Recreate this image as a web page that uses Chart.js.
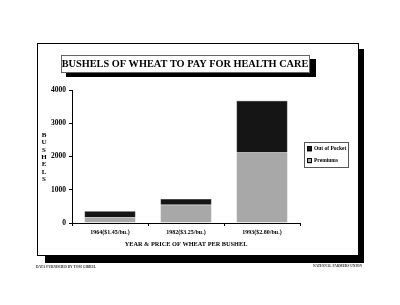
<!DOCTYPE html>
<html>
<head>
<meta charset="utf-8">
<script src="https://cdn.jsdelivr.net/npm/chart.js@4/dist/chart.umd.min.js"></script>
<style>
  html, body { margin: 0; padding: 0; background: #fff; }
  #wrap { width: 400px; height: 305px; position: relative; }
</style>
</head>
<body>
<div id="wrap"><canvas id="wheatChart"></canvas></div>
<script>
var categories = ['1964($1.45/bu.)', '1982($3.25/bu.)', '1993($2.80/bu.)'];
var premiums = [170, 550, 2120];
var outOfPocket = [180, 170, 1560];
var yTicks = [0, 1000, 2000, 3000, 4000];

var serif = '"Liberation Serif", "DejaVu Serif", serif';

// frame, title box, legend and the extra captions
var decorPlugin = {
    id: 'decor',
    beforeDraw: function (chart) {
        var ctx = chart.ctx;
        ctx.save();
        ctx.fillStyle = '#fff';
        ctx.fillRect(0, 0, chart.width, chart.height);
        // outer frame with drop shadow
        ctx.fillStyle = '#000';
        ctx.fillRect(45, 49, 319, 214);
        ctx.fillStyle = '#fff';
        ctx.fillRect(37, 43, 322, 213);
        ctx.strokeStyle = '#000';
        ctx.lineWidth = 1;
        ctx.strokeRect(37.5, 43.5, 321, 212);
        // title box with shadow
        ctx.fillStyle = '#000';
        ctx.fillRect(66, 59, 250, 18);
        ctx.fillStyle = '#fff';
        ctx.fillRect(61, 55, 249, 18);
        ctx.strokeStyle = '#666';
        ctx.strokeRect(61.5, 55.5, 248, 17);
        ctx.fillStyle = '#000';
        ctx.font = 'bold 10.3px ' + serif;
        ctx.textAlign = 'center';
        ctx.textBaseline = 'middle';
        ctx.fillText('BUSHELS OF WHEAT TO PAY FOR HEALTH CARE', 185, 64.5);
        ctx.restore();
    },
    afterDraw: function (chart) {
        var ctx = chart.ctx;
        ctx.save();
        ctx.fillStyle = '#000';
        ctx.textBaseline = 'middle';
        // stacked y axis title
        ctx.font = 'bold 7px ' + serif;
        ctx.textAlign = 'center';
        var letters = 'BUSHELS'.split('');
        letters.forEach(function (ch, i) {
            ctx.fillText(ch, 44, 135 + i * 7.4);
        });
        // x axis title
        ctx.font = 'bold 6.3px ' + serif;
        ctx.fillText('YEAR & PRICE OF WHEAT PER BUSHEL', 186, 244);
        // legend, top entry is the top of the stack
        var ds = chart.data.datasets.slice().reverse();
        ctx.fillStyle = '#fff';
        ctx.fillRect(304, 142, 45, 26);
        ctx.strokeStyle = '#555';
        ctx.lineWidth = 1;
        ctx.strokeRect(304.5, 142.5, 44, 25);
        ctx.font = 'bold 5.5px ' + serif;
        ctx.textAlign = 'left';
        ds.forEach(function (d, i) {
            var y = 149 + i * 12;
            ctx.fillStyle = d.backgroundColor;
            ctx.fillRect(307, y - 2.5, 5, 5);
            ctx.strokeStyle = '#000';
            ctx.strokeRect(307.5, y - 2.5, 4, 4);
            ctx.fillStyle = '#000';
            ctx.fillText(d.label, 314, y);
        });
        // footer captions
        ctx.font = 'bold 3.5px ' + serif;
        ctx.fillStyle = '#333';
        ctx.fillText('DATA FURNISHED BY TOM GIBBEL', 36, 267);
        ctx.textAlign = 'right';
        ctx.fillText('NATIONAL FARMERS UNION', 362, 266);
        ctx.restore();
    }
};

new Chart(document.getElementById('wheatChart').getContext('2d'), {
    type: 'bar',
    data: {
        labels: categories,
        datasets: [{
            label: 'Premiums',
            data: premiums,
            backgroundColor: '#a8a8a8',
            borderColor: '#888',
            borderWidth: 0.5
        }, {
            label: 'Out of Pocket',
            data: outOfPocket,
            backgroundColor: '#151515',
            borderColor: '#000',
            borderWidth: 0.5
        }]
    },
    options: {
        responsive: true,
        maintainAspectRatio: false,
        animation: false,
        layout: { padding: { left: 40, top: 90, right: 100, bottom: 45 } },
        categoryPercentage: 1,
        barPercentage: 0.67,
        plugins: {
            legend: { display: false },
            tooltip: { enabled: false }
        },
        scales: {
            x: {
                stacked: true,
                afterFit: function (s) { s.height = 37; },
                grid: { drawOnChartArea: false, tickLength: 3, color: '#000' },
                border: { color: '#000', width: 1 },
                ticks: { color: '#000', font: { family: serif, size: 6, weight: 'bold' }, padding: 3, maxRotation: 0 }
            },
            y: {
                stacked: true,
                min: yTicks[0],
                max: yTicks[yTicks.length - 1],
                afterFit: function (s) { s.width = 32; },
                afterBuildTicks: function (s) { s.ticks = yTicks.map(function (v) { return { value: v }; }); },
                grid: { drawOnChartArea: false, tickLength: 3, color: '#000' },
                border: { color: '#000', width: 1 },
                ticks: {
                    color: '#000',
                    font: { family: serif, size: 7.5, weight: 'bold' },
                    padding: 3,
                    callback: function (v) { return String(v); }
                }
            }
        }
    },
    plugins: [decorPlugin]
});
</script>
</body>
</html>
